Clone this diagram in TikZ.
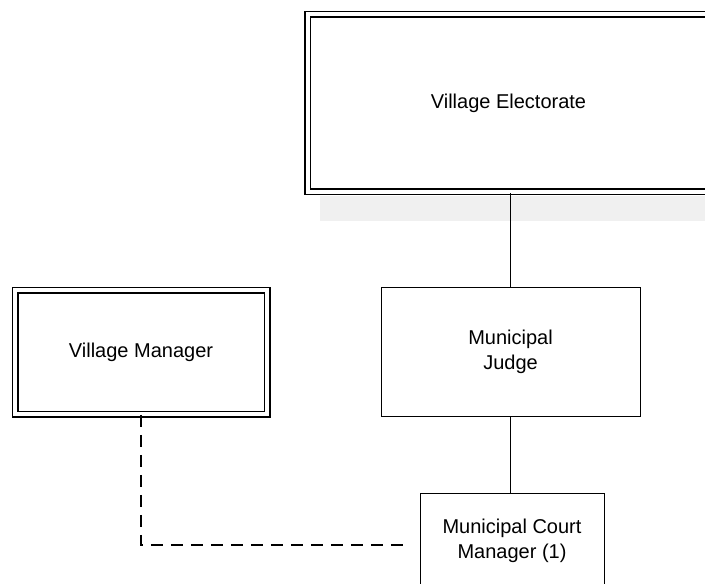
\documentclass[tikz,border=0pt]{standalone}
\usepackage{fontspec}
\setmainfont{Liberation Sans}
\begin{document}
\begin{tikzpicture}[x=0.5pt,y=-0.5pt,
  font=\fontsize{10}{12.5}\selectfont,
  box/.style={draw,line width=0.5pt,align=center,inner sep=0pt},
  dbox/.style={box,double,line width=0.75pt,double distance=2pt},
  link/.style={line width=0.5pt},
  dashlink/.style={line width=1pt,dash pattern=on 6pt off 4pt}]
	%frame
	\useasboundingbox (0,0) rectangle (705,583);
	\clip (0,0) rectangle (705,583);

	%scan shadow under the top box
	\fill[black!6] (320,196) rectangle (705,221);

	%boxes
	\node[dbox,minimum width=201pt,minimum height=88.75pt] (elect) at (508.5,103) {Village Electorate};
	\node[box,minimum width=129.5pt,minimum height=64.5pt] (judge) at (510.5,351.5) {Municipal\\Judge};
	\node[dbox,minimum width=126pt,minimum height=62pt] (vman) at (141,352) {Village Manager};
	\node[box,minimum width=92pt,minimum height=48pt] (mcm) at (512,541) {Municipal Court\\Manager (1)};

	%free end of the dashed line
	\coordinate (dashend) at (403,545);

	%lines
	\draw[link] (judge.north) -- (judge.north |- elect.south); %electorate - judge
	\draw[link] (judge.south) -- (judge.south |- mcm.north); %judge - court manager
	\draw[dashlink] (vman.south) |- (dashend); %village manager - court manager
\end{tikzpicture}
\end{document}
